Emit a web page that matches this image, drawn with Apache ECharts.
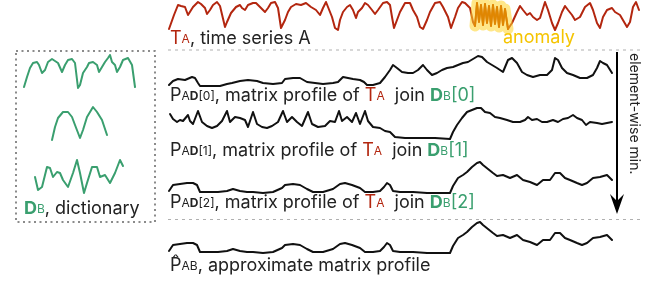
<!DOCTYPE html>
<html>
<head>
<meta charset="utf-8">
<script src="https://cdn.jsdelivr.net/npm/echarts@6/dist/echarts.min.js"></script>
<style>
  html, body { margin: 0; padding: 0; background: #fff; }
  #chart { width: 660px; height: 282px; }
</style>
</head>
<body>
<div id="chart"></div>
<script>
// time series A  [t, value]
var seriesA = [[0,4],[1,4],[5,18],[9,28],[12,27],[16,26],[19,18],[21,19],[24,26],[29,31],[32,29],[36,25],[38,19],[41,23],[44,28],[48,31],[51,27],[53,25],[56,6],[58,11],[62,20],[67,26],[71,28],[73,25],[76,23],[79,28],[84,30],[87,30],[91,26],[96,21],[99,25],[102,30],[106,31],[109,25],[112,5],[116,13],[119,21],[122,26],[127,29],[132,28],[137,30],[142,26],[147,23],[151,18],[154,25],[157,31],[159,26],[163,16],[166,5],[169,3],[171,13],[174,21],[178,26],[181,28],[184,23],[187,15],[189,21],[193,25],[196,30],[199,28],[203,23],[206,19],[209,23],[214,30],[218,31],[221,28],[223,16],[225,5],[228,13],[231,21],[236,30],[241,30],[244,23],[248,16],[251,6],[254,4],[258,13],[261,21],[266,30],[271,31],[274,26],[279,16],[282,5],[286,16],[289,25],[293,31],[296,30],[301,25],[304,11],
  [306,7],[308,30],[310,11],[312,28],[314,8],[316,29],[318,10],[320,27],[322,7],[324,28],[326,9],[328,26],[330,6],[332,27],[334,8],[336,24],[339,4],
  [343,10],[348,21],[351,27],[354,23],[358,18],[361,20],[364,16],[368,13],[371,15],[376,31],[379,23],[383,10],[386,3],[389,10],[393,21],[396,27],[399,23],[403,18],[406,13],[411,16],[416,26],[421,30],[424,23],[428,10],[431,5],[434,16],[438,23],[443,25],[446,21],[451,18],[458,6],[461,11],[464,26],[467,31],[470,23]];
var anomalyRange = [306, 339];

// matrix profiles of T_A join D_B[i]
var profile0 = [[0,3],[4,7],[9,9],[16,8],[23,11],[26,10],[29,5],[31,2],[41,2],[51,2],[58,4],[63,5],[71,7],[79,8],[88,7],[94,5],[104,4],[113,5],[116,9],[124,10],[131,10],[138,6],[146,5],[154,4],[164,5],[169,6],[174,11],[179,10],[184,9],[191,8],[195,6],[198,3],[204,3],[211,5],[216,11],[221,18],[224,23],[228,20],[233,16],[239,15],[244,15],[249,18],[254,23],[258,18],[263,13],[268,15],[273,18],[278,20],[284,21],[289,23],[294,25],[299,26],[304,29],[309,32],[313,31],[318,26],[323,23],[328,20],[334,16],[339,28],[343,30],[348,25],[353,16],[358,13],[364,11],[371,13],[378,13],[383,18],[386,30],[389,28],[393,20],[398,15],[404,13],[411,10],[418,10],[424,13],[428,20],[431,27],[434,25],[438,23],[443,15]];
var profile1 = [[1,27],[4,22],[8,19],[11,21],[14,20],[19,26],[21,20],[24,17],[29,30],[33,19],[38,15],[43,13],[48,15],[53,20],[58,30],[61,19],[66,24],[71,23],[76,21],[79,14],[84,29],[88,17],[93,14],[98,13],[103,15],[109,19],[114,30],[118,19],[123,24],[128,19],[133,15],[139,29],[143,17],[149,14],[156,15],[161,20],[166,19],[170,30],[173,20],[178,24],[183,19],[187,28],[191,17],[196,30],[199,20],[204,14],[211,13],[216,10],[221,9],[226,4],[236,3],[251,3],[266,3],[281,2],[284,9],[288,16],[293,23],[298,29],[303,31],[308,33],[312,33],[316,29],[321,28],[326,24],[331,23],[338,21],[344,19],[351,19],[356,21],[359,24],[363,21],[368,22],[373,19],[378,19],[384,21],[389,19],[394,22],[399,23],[404,26],[408,23],[413,21],[417,16],[421,19],[428,18],[433,17],[438,18],[443,19]];
var profile2 = [[0,4],[4,10],[11,11],[18,12],[24,12],[28,10],[31,3],[41,3],[49,3],[58,4],[64,6],[71,4],[78,3],[84,3],[94,2],[104,3],[113,7],[116,10],[124,11],[131,10],[138,6],[144,3],[154,3],[164,6],[171,11],[176,12],[183,10],[191,7],[196,3],[204,3],[211,4],[215,8],[218,12],[221,10],[224,4],[231,3],[244,3],[258,2],[271,2],[281,2],[284,9],[289,17],[294,20],[298,23],[303,28],[308,32],[311,33],[314,30],[319,26],[324,22],[328,19],[334,20],[341,17],[348,20],[354,15],[361,13],[368,10],[374,15],[381,15],[386,22],[391,22],[396,17],[401,15],[408,12],[413,10],[418,12],[424,17],[431,18],[438,20],[443,15]];
// approximate matrix profile (element-wise min.)
var approxProfile = [[0,4],[4,10],[11,11],[18,12],[24,12],[28,10],[31,3],[41,3],[49,3],[58,4],[64,6],[71,4],[78,3],[84,3],[94,2],[104,3],[113,7],[116,10],[124,11],[131,10],[138,6],[144,3],[154,3],[164,6],[171,11],[176,12],[183,10],[191,7],[196,3],[204,3],[211,4],[215,8],[218,12],[221,10],[224,4],[231,3],[244,3],[258,2],[271,2],[281,2],[284,9],[289,17],[294,20],[298,23],[303,28],[308,32],[311,33],[314,30],[319,26],[324,22],[328,19],[334,20],[341,17],[348,20],[354,15],[361,13],[368,10],[374,15],[381,15],[386,22],[391,22],[396,17],[401,15],[408,12],[413,10],[418,12],[424,17],[431,18],[438,20],[443,15]];

// dictionary D_B
var dict0 = [[0,1],[3,11],[6,20],[9,25],[13,26],[15,23],[18,15],[21,18],[24,26],[28,29],[31,27],[34,25],[38,16],[41,23],[44,28],[48,29],[51,25],[54,0],[56,3],[59,15],[63,21],[65,25],[69,26],[73,23],[75,16],[78,21],[81,26],[84,30],[86,33],[88,26],[91,23],[93,16],[96,21],[99,28],[104,30],[108,23],[111,1]];
var dict1 = [[28,1],[31,14],[34,23],[39,29],[44,29],[48,24],[51,16],[56,3],[59,11],[63,24],[69,34],[73,29],[78,21],[83,6]];
var dict2 = [[11,17],[14,4],[18,7],[23,27],[26,26],[29,17],[33,22],[36,21],[39,14],[44,7],[49,21],[53,34],[56,21],[60,1],[63,11],[68,27],[73,27],[76,17],[81,19],[86,11],[91,21],[96,34],[99,28]];

var RED = '#b3260f', GREEN = '#3a9f6f', INK = '#111', FONT = 'Inter, Roboto, sans-serif';

var chart = echarts.init(document.getElementById('chart'));

var grids = [], xAxes = [], yAxes = [], series = [];
function panel(box, xmax, ymax) {
    grids.push({left: box[0], top: box[1], width: box[2], height: box[3]});
    var i = grids.length - 1;
    xAxes.push({type: 'value', gridIndex: i, min: 0, max: xmax, show: false});
    yAxes.push({type: 'value', gridIndex: i, min: 0, max: ymax, show: false});
    return i;
}
function line(idx, data, color, width, extra) {
    var s = {
        type: 'line', xAxisIndex: idx, yAxisIndex: idx, data: data,
        symbol: 'none', silent: true,
        lineStyle: {color: color, width: width, join: 'round', cap: 'round'}
    };
    for (var k in extra) s[k] = extra[k];
    series.push(s);
}

var pA = panel([169, 0, 471, 33], 471, 33);
var p0 = panel([169, 54, 471, 34], 471, 34);
var p1 = panel([169, 106, 471, 35], 471, 35);
var p2 = panel([169, 160, 471, 35], 471, 35);
var pAB = panel([169, 220, 471, 35], 471, 35);
var d0 = panel([24, 55, 111, 33], 111, 33);
var d1 = panel([24, 106, 111, 35], 111, 35);
var d2 = panel([24, 159, 111, 35], 111, 35);

var anomaly = seriesA.filter(function (p) { return p[0] >= anomalyRange[0] && p[0] <= anomalyRange[1]; });

line(pA, seriesA, RED, 2);
line(pA, anomaly, 'rgba(255,212,40,0.55)', 11);
line(pA, anomaly, '#e08700', 1.8);
line(p0, profile0, INK, 2);
line(p1, profile1, INK, 2);
line(p2, profile2, INK, 2);
line(pAB, approxProfile, INK, 2);
line(d0, dict0, GREEN, 2);
line(d1, dict1, GREEN, 2);
line(d2, dict2, GREEN, 2);

var rich = {
    n: {fontSize: 18, fill: '#222', fontFamily: FONT},
    s: {fontSize: 12, fill: '#222', fontFamily: FONT},
    sb: {fontSize: 12, fill: '#222', fontFamily: FONT, fontWeight: 'bold'},
    r: {fontSize: 18, fill: RED, fontFamily: FONT},
    rs: {fontSize: 12, fill: RED, fontFamily: FONT},
    g: {fontSize: 18, fill: GREEN, fontFamily: FONT},
    gb: {fontSize: 18, fill: GREEN, fontFamily: FONT, fontWeight: 'bold'},
    gs: {fontSize: 12, fill: GREEN, fontFamily: FONT},
    y: {fontSize: 18, fill: '#f5c400', fontFamily: FONT}
};
function label(x, y, text) {
    return {type: 'text', x: x, y: y, silent: true,
        style: {text: text, rich: rich, align: 'left', verticalAlign: 'middle'}};
}
function profileLabel(i) {
    return '{n|P}{s|A}{sb|D}{s|[' + i + ']}{n|, matrix profile of }{r|T}{rs|A}{n|  join }{gb|D}{gs|B}{g|[' + i + ']}';
}

var dash = {stroke: '#b0b0b0', lineWidth: 1.2, lineDash: [3, 4]};

chart.setOption({
    animation: false,
    grid: grids,
    xAxis: xAxes,
    yAxis: yAxes,
    series: series,
    graphic: [
        {type: 'line', silent: true, shape: {x1: 168, y1: 50, x2: 640, y2: 50}, style: dash},
        {type: 'line', silent: true, shape: {x1: 168, y1: 219.5, x2: 640, y2: 219.5}, style: dash},
        {type: 'rect', silent: true, shape: {x: 16, y: 51, width: 139, height: 171},
            style: {fill: 'none', stroke: '#666', lineWidth: 1.5, lineDash: [2, 3.5]}},
        {type: 'line', silent: true, shape: {x1: 617, y1: 52, x2: 617, y2: 204}, style: {stroke: '#000', lineWidth: 2}},
        {type: 'polygon', silent: true, shape: {points: [[610, 194], [617, 214], [624, 194], [617, 201]]}, style: {fill: '#000'}},
        {type: 'text', x: 634, y: 53, rotation: -Math.PI / 2, silent: true,
            style: {text: 'element-wise min.', font: '14px ' + FONT, fill: '#222', align: 'left', verticalAlign: 'middle'}},
        label(170, 39, '{r|T}{rs|A}{n|, time series A}'),
        label(503, 38, '{y|anomaly}'),
        label(170, 96, profileLabel(0)),
        label(170, 151, profileLabel(1)),
        label(170, 203, profileLabel(2)),
        label(170, 266, '{n|P\u0302}{s|AB}{n|, approximate matrix profile}'),
        label(24, 209, '{gb|D}{gs|B}{n|, dictionary}')
    ]
});
</script>
</body>
</html>
